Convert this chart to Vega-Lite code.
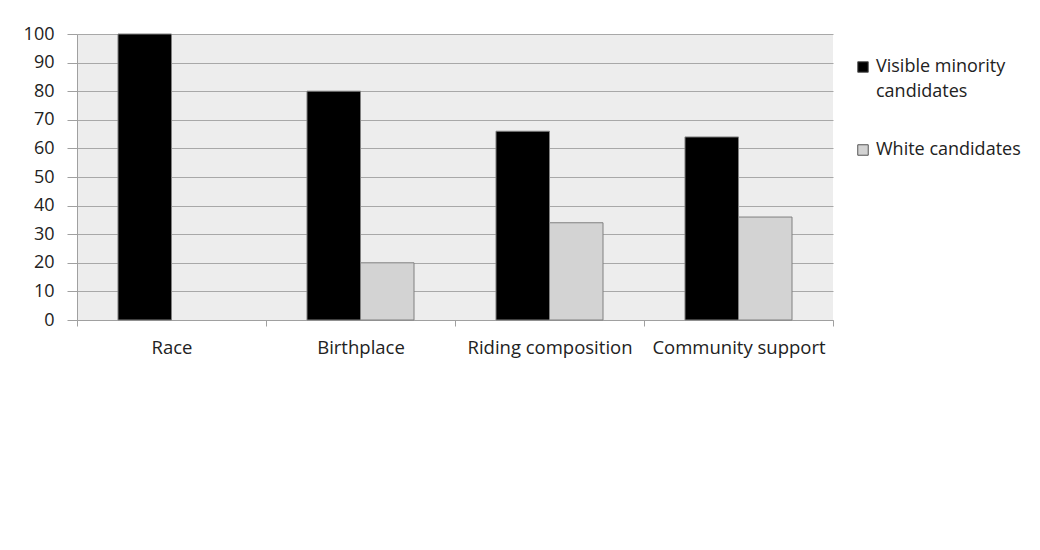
{
  "$schema": "https://vega.github.io/schema/vega-lite/v6.json",
  "width": 756,
  "height": 286,
  "autosize": "none",
  "padding": {"left": 77, "top": 34, "right": 207, "bottom": 230},
  "background": "white",
  "data": {
    "values": [
      {"category": "Race", "group": "Visible minority candidates", "value": 100},
      {"category": "Birthplace", "group": "Visible minority candidates", "value": 80},
      {"category": "Birthplace", "group": "White candidates", "value": 20},
      {"category": "Riding composition", "group": "Visible minority candidates", "value": 66},
      {"category": "Riding composition", "group": "White candidates", "value": 34},
      {"category": "Community support", "group": "Visible minority candidates", "value": 64},
      {"category": "Community support", "group": "White candidates", "value": 36}
    ]
  },
  "mark": {"type": "bar", "stroke": "#808080", "strokeWidth": 1},
  "encoding": {
    "x": {
      "field": "category",
      "type": "nominal",
      "sort": ["Race", "Birthplace", "Riding composition", "Community support"],
      "scale": {"paddingInner": 0, "paddingOuter": 0},
      "axis": {
        "title": null,
        "labelAngle": 0,
        "labelFont": "Open Sans",
        "labelFontSize": 18.5,
        "labelColor": "#222222",
        "labelPadding": 12,
        "domainColor": "#a0a0a0",
        "ticks": true,
        "tickBand": "extent",
        "tickSize": 6,
        "tickColor": "#a0a0a0",
        "grid": false
      }
    },
    "xOffset": {
      "field": "group",
      "type": "nominal",
      "sort": ["Visible minority candidates", "White candidates"],
      "scale": {"paddingInner": 0, "paddingOuter": 0.766}
    },
    "y": {
      "field": "value",
      "type": "quantitative",
      "scale": {"domain": [0, 100], "nice": false},
      "axis": {
        "title": null,
        "values": [0, 10, 20, 30, 40, 50, 60, 70, 80, 90, 100],
        "labelFont": "Open Sans",
        "labelFontSize": 18,
        "labelColor": "#222222",
        "labelPadding": 13,
        "tickSize": 10,
        "tickColor": "#a0a0a0",
        "domainColor": "#a0a0a0",
        "gridColor": "#a8a8a8",
        "gridOpacity": 1
      }
    },
    "color": {
      "field": "group",
      "type": "nominal",
      "sort": ["Visible minority candidates", "White candidates"],
      "scale": {"range": ["#000000", "#d3d3d3"]},
      "legend": {
        "title": null,
        "orient": "none",
        "legendX": 777,
        "legendY": 24,
        "symbolType": "square",
        "symbolSize": 110,
        "symbolStrokeColor": "#555555",
        "symbolStrokeWidth": 1,
        "labelFont": "Open Sans",
        "labelFontSize": 18,
        "labelColor": "#222222",
        "labelLimit": 300,
        "labelOffset": 4,
        "labelExpr": "datum.label == 'Visible minority candidates' ? ['Visible minority', 'candidates'] : datum.label",
        "rowPadding": 40,
        "padding": 0
      }
    }
  },
  "config": {
    "view": {"fill": "#ededed", "stroke": null},
    "style": {"guide-label": {"lineHeight": 25}}
  }
}
